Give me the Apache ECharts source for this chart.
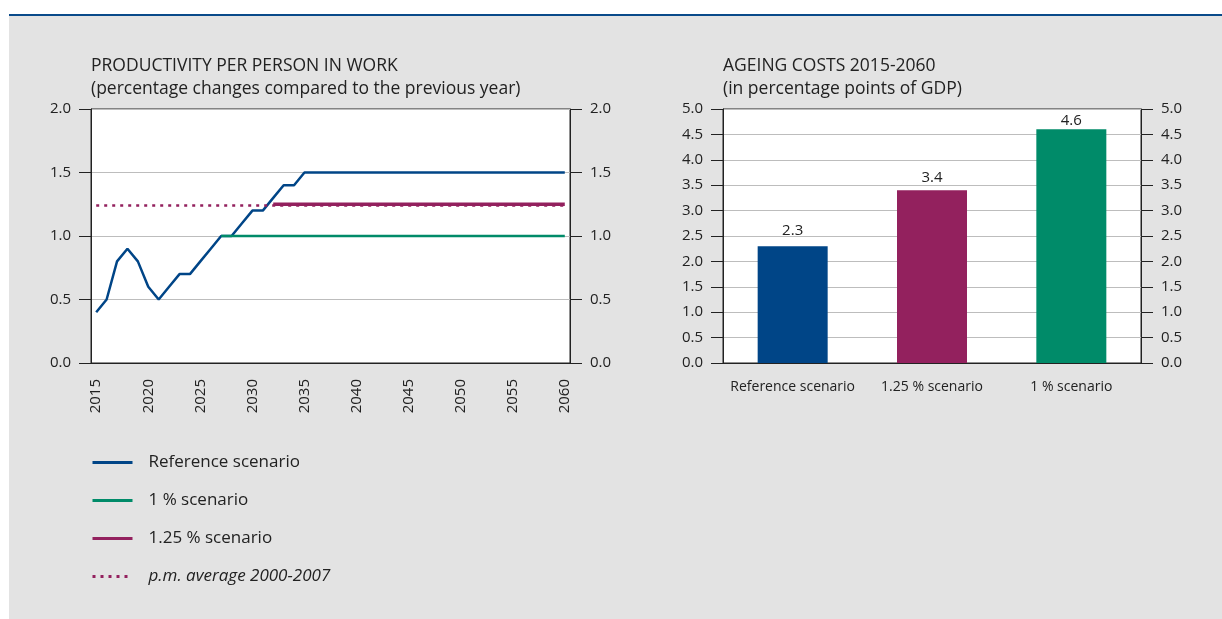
<!DOCTYPE html>
<html>
<head>
<meta charset="utf-8">
<script src="https://cdn.jsdelivr.net/npm/echarts@6/dist/echarts.min.js"></script>
<style>
    html, body { margin: 0; padding: 0; background: #fff; }
    .boxP { position: absolute; left: 9px; top: 16px; right: 0; bottom: 0; background: #e3e3e3; }
    .topLine { position: absolute; left: 9px; top: 14px; right: 0; height: 2px; background: #0a4a8a; }
    #chartBox { position: absolute; left: 0; top: 0; width: 1222px; height: 619px; }
</style>
</head>
<body>
<div class="topLine"></div>
<div class="boxP"></div>
<div id="chartBox"></div>
<script>
    // x轴年份
    var years = ['2015','2016','2017','2018','2019','2020','2021','2022','2023','2024',
        '2025','2026','2027','2028','2029','2030','2031','2032','2033','2034',
        '2035','2036','2037','2038','2039','2040','2041','2042','2043','2044',
        '2045','2046','2047','2048','2049','2050','2051','2052','2053','2054',
        '2055','2056','2057','2058','2059','2060'];
    // 各情景生产率
    var refScenario = [0.4,0.5,0.8,0.9,0.8,0.6,0.5,0.6,0.7,0.7,
        0.8,0.9,1.0,1.0,1.1,1.2,1.2,1.3,1.4,1.4,
        1.5,1.5,1.5,1.5,1.5,1.5,1.5,1.5,1.5,1.5,
        1.5,1.5,1.5,1.5,1.5,1.5,1.5,1.5,1.5,1.5,
        1.5,1.5,1.5,1.5,1.5,1.5];
    var onePctScenario = [null,null,null,null,null,null,null,null,null,null,
        null,null,1.0,1.0,1.0,1.0,1.0,1.0,1.0,1.0,
        1.0,1.0,1.0,1.0,1.0,1.0,1.0,1.0,1.0,1.0,
        1.0,1.0,1.0,1.0,1.0,1.0,1.0,1.0,1.0,1.0,
        1.0,1.0,1.0,1.0,1.0,1.0];
    var pct125Scenario = [null,null,null,null,null,null,null,null,null,null,
        null,null,null,null,null,null,null,1.25,1.25,1.25,
        1.25,1.25,1.25,1.25,1.25,1.25,1.25,1.25,1.25,1.25,
        1.25,1.25,1.25,1.25,1.25,1.25,1.25,1.25,1.25,1.25,
        1.25,1.25,1.25,1.25,1.25,1.25];
    var pmAverage = [1.24,1.24,1.24,1.24,1.24,1.24,1.24,1.24,1.24,1.24,
        1.24,1.24,1.24,1.24,1.24,1.24,1.24,1.24,1.24,1.24,
        1.24,1.24,1.24,1.24,1.24,1.24,1.24,1.24,1.24,1.24,
        1.24,1.24,1.24,1.24,1.24,1.24,1.24,1.24,1.24,1.24,
        1.24,1.24,1.24,1.24,1.24,1.24];
    // 老龄化成本
    var costCategories = ['Reference scenario', '1.25 % scenario', '1 % scenario'];
    var costValues = [2.3, 3.4, 4.6];

    var cBlue = '#004587';
    var cGreen = '#008b69';
    var cRed = '#93215e';
    var costColors = [cBlue, cRed, cGreen];
    var labelGap = [8, 5, 1];
    var txt = '#222';
    var fontName = '"Open Sans", "Noto Sans", sans-serif';

    function valueAxis(grid, pos, max, showSplit) {
        return {
            type: 'value', gridIndex: grid, position: pos,
            min: 0, max: max, interval: 0.5,
            axisLine: { show: true, lineStyle: { color: '#222', width: 1 } },
            axisTick: { show: true, inside: false, length: 12, lineStyle: { color: '#222' } },
            axisLabel: {
                margin: 20, color: txt, fontSize: 15, fontFamily: fontName,
                formatter: function (v) { return v.toFixed(1); }
            },
            splitLine: { show: showSplit, lineStyle: { color: '#bdbdbd', width: 1 } }
        };
    }

    var myChart = echarts.init(document.getElementById('chartBox'));
    var option = {
        backgroundColor: 'transparent',
        animation: false,
        textStyle: { fontFamily: fontName },
        title: [
            {
                left: 91, top: 57, itemGap: 5,
                text: 'PRODUCTIVITY PER PERSON IN WORK',
                subtext: '(percentage changes compared to the previous year)',
                textStyle: { fontSize: 17.5, fontWeight: 'normal', color: txt, fontFamily: fontName },
                subtextStyle: { fontSize: 17.5, color: txt, fontFamily: fontName },
                padding: 0
            },
            {
                left: 723, top: 57, itemGap: 5,
                text: 'AGEING COSTS 2015-2060',
                subtext: '(in percentage points of GDP)',
                textStyle: { fontSize: 17.5, fontWeight: 'normal', color: txt, fontFamily: fontName },
                subtextStyle: { fontSize: 17.5, color: txt, fontFamily: fontName },
                padding: 0
            }
        ],
        legend: {
            orient: 'vertical', left: 91, top: 454, padding: 0,
            itemWidth: 40, itemHeight: 16, itemGap: 21,
            itemStyle: { opacity: 0 },
            lineStyle: { width: 3 },
            textStyle: { fontSize: 17, color: txt, fontFamily: fontName, padding: [0, 0, 0, 11] },
            data: [
                { name: 'Reference scenario' },
                { name: '1 % scenario' },
                { name: '1.25 % scenario' },
                { name: 'p.m. average 2000-2007', textStyle: { fontStyle: 'italic' } }
            ]
        },
        grid: [
            { left: 91, top: 109, width: 479, height: 254, show: true, backgroundColor: '#fff', borderColor: '#222', borderWidth: 1 },
            { left: 723, top: 109, width: 418, height: 254, show: true, backgroundColor: '#fff', borderColor: '#222', borderWidth: 1 }
        ],
        xAxis: [
            {
                type: 'category', gridIndex: 0, data: years, boundaryGap: true,
                axisLine: { lineStyle: { color: '#222' } },
                axisTick: { inside: true, length: 12, interval: 0, lineStyle: { color: '#222' } },
                axisLabel: { interval: 4, rotate: 90, margin: 16, color: txt, fontSize: 15, fontFamily: fontName },
                splitLine: { show: false }
            },
            {
                type: 'category', gridIndex: 1, data: costCategories, boundaryGap: true,
                axisLine: { lineStyle: { color: '#222' } },
                axisTick: { inside: true, length: 11, lineStyle: { color: '#222' } },
                axisLabel: { interval: 0, margin: 17, color: txt, fontSize: 14, fontFamily: fontName },
                splitLine: { show: false }
            }
        ],
        yAxis: [
            valueAxis(0, 'left', 2, true),
            valueAxis(0, 'right', 2, false),
            valueAxis(1, 'left', 5, true),
            valueAxis(1, 'right', 5, false)
        ],
        series: [
            {
                name: 'Reference scenario', type: 'line', xAxisIndex: 0, yAxisIndex: 0,
                data: refScenario, symbol: 'none', color: cBlue,
                lineStyle: { color: cBlue, width: 2.5 }
            },
            {
                name: '1 % scenario', type: 'line', xAxisIndex: 0, yAxisIndex: 0,
                data: onePctScenario, symbol: 'none', color: cGreen,
                lineStyle: { color: cGreen, width: 2.5 }
            },
            {
                name: '1.25 % scenario', type: 'line', xAxisIndex: 0, yAxisIndex: 0,
                data: pct125Scenario, symbol: 'none', color: cRed,
                lineStyle: { color: cRed, width: 3.5 }
            },
            {
                name: 'p.m. average 2000-2007', type: 'line', xAxisIndex: 0, yAxisIndex: 0,
                data: pmAverage, symbol: 'none', color: cRed,
                lineStyle: { color: cRed, width: 2.5, type: [3, 5] }
            },
            {
                name: 'Ageing costs', type: 'bar', xAxisIndex: 1, yAxisIndex: 2,
                barWidth: 70,
                data: costValues.map(function (v, i) {
                    return { value: v, itemStyle: { color: costColors[i] }, label: { distance: labelGap[i] } };
                }),
                label: {
                    show: true, position: 'top',
                    color: txt, fontSize: 15, fontFamily: fontName,
                    formatter: function (p) { return p.value.toFixed(1); }
                }
            }
        ]
    };
    myChart.setOption(option, true);
</script>
</body>
</html>
